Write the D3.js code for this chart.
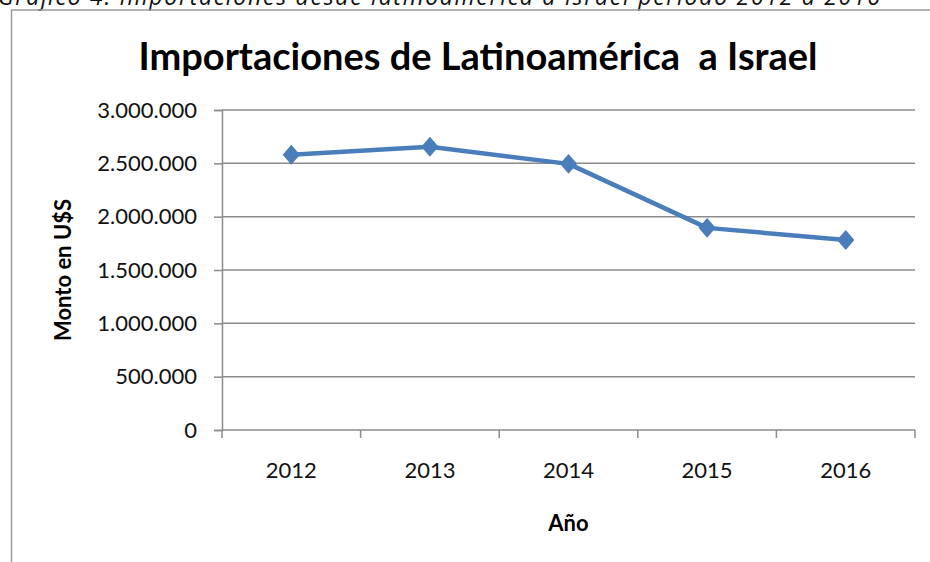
<!DOCTYPE html>
<html>
<head>
<meta charset="utf-8">
<script src="https://cdnjs.cloudflare.com/ajax/libs/d3/7.8.5/d3.min.js"></script>
<style>
  html, body { margin: 0; padding: 0; background: #fff; overflow: hidden; }
  text { font-family: Lato, "Open Sans", sans-serif; }
</style>
</head>
<body>
<div id="app"></div>
<script>
const years = ["2012", "2013", "2014", "2015", "2016"]
const montos = [2580000, 2655000, 2495000, 1895000, 1782000]
const yTicks = [0, 500000, 1000000, 1500000, 2000000, 2500000, 3000000]

const width = 930
const height = 562
const margin = { top: 110, right: 15, bottom: 132, left: 222 }

const svg = d3.select('#app')
  .append('svg')
  .attr('width', width)
  .attr('height', height)

// caption from the document, cut off at the top
svg.append('text')
  .attr('x', -2)
  .attr('y', 5)
  .attr('textLength', 882)
  .style('font-family', '"Open Sans", sans-serif')
  .style('font-style', 'italic')
  .style('font-size', '23px')
  .attr('fill', '#111')
  .text('Gráfico 4: Importaciones desde latinoamérica a Israel período 2012 a 2016')

// chart border
svg.append('rect')
  .attr('x', 11.5)
  .attr('y', 10)
  .attr('width', 960)
  .attr('height', 600)
  .attr('fill', 'none')
  .attr('stroke', '#9a9a9a')
  .attr('stroke-width', 1.5)

const x = d3.scaleBand()
  .domain(years)
  .range([margin.left, width - margin.right])

const y = d3.scaleLinear()
  .domain([0, 3000000])
  .range([height - margin.bottom, margin.top])

const fmt = d => d3.format(',')(d).replace(/,/g, '.')

// grid lines
svg.append('g')
  .selectAll('line')
  .data(yTicks.filter(d => d > 0))
  .enter()
  .append('line')
  .attr('x1', margin.left)
  .attr('x2', width - margin.right)
  .attr('y1', d => y(d))
  .attr('y2', d => y(d))
  .attr('stroke', '#8c8c8c')
  .attr('stroke-width', 1.5)

// y axis
const yAxis = svg.append('g')
  .attr('transform', `translate(${margin.left},0)`)
  .call(d3.axisLeft(y).tickValues(yTicks).tickFormat(fmt).tickSize(8).tickPadding(17))
yAxis.select('.domain').attr('stroke', '#8c8c8c').attr('stroke-width', 1.5)
yAxis.selectAll('.tick line').attr('stroke', '#8c8c8c').attr('stroke-width', 1.5)
yAxis.selectAll('.tick text')
  .style('font-family', 'Lato, sans-serif')
  .style('font-size', '22px')
  .attr('fill', '#111')

// x axis with ticks between categories
const xAxis = svg.append('g')
  .attr('transform', `translate(0,${y(0)})`)
  .call(d3.axisBottom(x).tickSize(0).tickPadding(32))
xAxis.select('.domain').attr('stroke', '#8c8c8c').attr('stroke-width', 1.5)
  .attr('d', `M${margin.left},0H${width - margin.right}`)
xAxis.selectAll('.tick text')
  .style('font-family', 'Lato, sans-serif')
  .style('font-size', '22px')
  .attr('fill', '#111')
xAxis.append('g')
  .selectAll('line')
  .data(years.concat(['end']))
  .enter()
  .append('line')
  .attr('x1', (d, i) => i < years.length ? x(d) : x(years[years.length - 1]) + x.bandwidth())
  .attr('x2', (d, i) => i < years.length ? x(d) : x(years[years.length - 1]) + x.bandwidth())
  .attr('y1', 0)
  .attr('y2', 8)
  .attr('stroke', '#8c8c8c')
  .attr('stroke-width', 1.5)

// series line
const line = d3.line()
  .x((d, i) => x(years[i]) + x.bandwidth() / 2)
  .y(d => y(d))

svg.append('path')
  .datum(montos)
  .attr('d', line)
  .attr('fill', 'none')
  .attr('stroke', '#4a7ebb')
  .attr('stroke-width', 4.5)
  .attr('stroke-linejoin', 'round')

svg.append('g')
  .selectAll('path')
  .data(montos)
  .enter()
  .append('path')
  .attr('d', d3.symbol(d3.symbolDiamond, 115))
  .attr('transform', (d, i) => `translate(${x(years[i]) + x.bandwidth() / 2},${y(d)}) scale(1.5,1)`)
  .attr('fill', '#4a7ebb')

// titles
svg.append('text')
  .attr('x', 478)
  .attr('y', 70)
  .attr('text-anchor', 'middle')
  .attr('xml:space', 'preserve')
  .style('font-weight', 'bold')
  .style('font-size', '38px')
  .attr('fill', '#000')
  .text('Importaciones de Latinoamérica  a Israel')

svg.append('text')
  .attr('transform', `translate(71,${(margin.top + y(0)) / 2}) rotate(-90)`)
  .attr('text-anchor', 'middle')
  .style('font-weight', 'bold')
  .style('font-size', '22px')
  .attr('fill', '#000')
  .text('Monto en U$S')

svg.append('text')
  .attr('x', (margin.left + width - margin.right) / 2)
  .attr('y', 531)
  .attr('text-anchor', 'middle')
  .style('font-weight', 'bold')
  .style('font-size', '22px')
  .attr('fill', '#000')
  .text('Año')
</script>
</body>
</html>
